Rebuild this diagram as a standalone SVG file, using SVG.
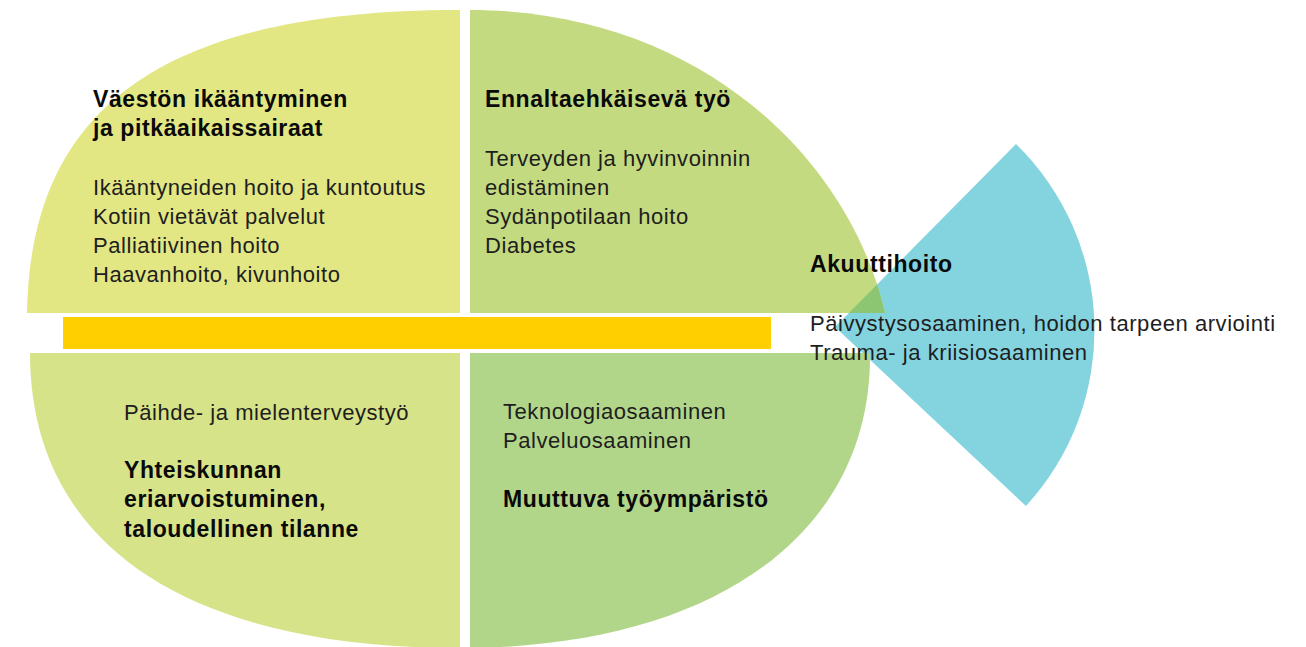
<svg xmlns="http://www.w3.org/2000/svg" width="1306" height="647" viewBox="0 0 1306 647">
<style>
text{font-family:"Liberation Sans",Arial,sans-serif;font-size:22px;letter-spacing:0.55px;fill:#1e1e1e}
.b{font-weight:bold;font-size:23px;letter-spacing:0.6px;fill:#0a0a0a}
</style>
<defs>
<clipPath id="trclip"><path d="M470,313 L470,10 C700,10 850,160 885,313 Z"/></clipPath>
</defs>
<rect width="1306" height="647" fill="#ffffff"/>
<g id="wedge">
<path d="M835,327 L1016,144 A260,260 0 0 1 1026,506 Z" fill="#84d4e0"/>
</g>
<g id="q-top-left">
<path d="M460,313 L27,313 C30,110 160,10 460,10 Z" fill="#e2e784"/>
<text class="b" x="93" y="107">Väestön ikääntyminen</text>
<text class="b" x="93" y="136">ja pitkäaikaissairaat</text>
<text x="93" y="195">Ikääntyneiden hoito ja kuntoutus</text>
<text x="93" y="224">Kotiin vietävät palvelut</text>
<text x="93" y="253">Palliatiivinen hoito</text>
<text x="93" y="282">Haavanhoito, kivunhoito</text>
</g>
<g id="q-top-right">
<path d="M470,313 L470,10 C700,10 850,160 885,313 Z" fill="#c4da80"/>
<path d="M835,327 L1016,144 A260,260 0 0 1 1026,506 Z" fill="#8cc673" clip-path="url(#trclip)"/>
<text class="b" x="485" y="107">Ennaltaehkäisevä työ</text>
<text x="485" y="166">Terveyden ja hyvinvoinnin</text>
<text x="485" y="195">edistäminen</text>
<text x="485" y="224">Sydänpotilaan hoito</text>
<text x="485" y="253">Diabetes</text>
</g>
<g id="bar">
<rect x="63" y="317" width="708" height="32" fill="#ffcf00"/>
</g>
<g id="q-bottom-left">
<path d="M460,353 L30,353 C30,540 180,648 460,648 Z" fill="#d7e388"/>
<text x="124" y="420">Päihde- ja mielenterveystyö</text>
<text class="b" x="124" y="478">Yhteiskunnan</text>
<text class="b" x="124" y="507">eriarvoistuminen,</text>
<text class="b" x="124" y="537">taloudellinen tilanne</text>
</g>
<g id="q-bottom-right">
<path d="M470,353 L870,353 C872,530 720,645 470,648 Z" fill="#b2d689"/>
<text x="503" y="419">Teknologiaosaaminen</text>
<text x="503" y="448">Palveluosaaminen</text>
<text class="b" x="503" y="507">Muuttuva työympäristö</text>
</g>
<g id="akuuttihoito">
<text class="b" x="810" y="272">Akuuttihoito</text>
<text x="810" y="331">Päivystysosaaminen, hoidon tarpeen arviointi</text>
<text x="810" y="360">Trauma- ja kriisiosaaminen</text>
</g>
<g id="connectors"/>
</svg>
